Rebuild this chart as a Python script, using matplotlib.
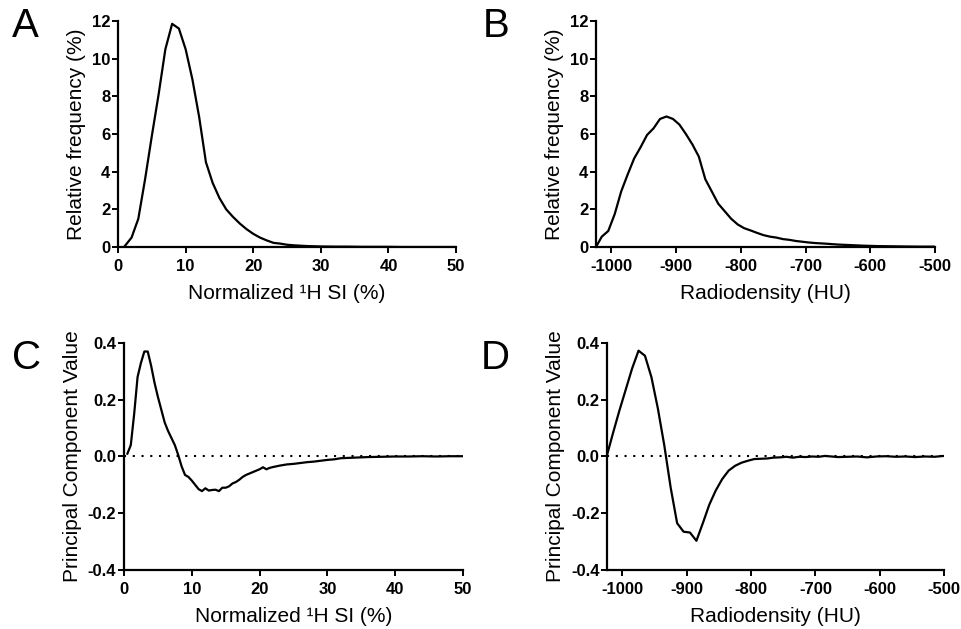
import numpy as np
import matplotlib
matplotlib.use("Agg")
import matplotlib.pyplot as plt

plt.rcParams['font.family'] = ['Liberation Sans', 'DejaVu Sans']
plt.rcParams['axes.unicode_minus'] = False

# Panel A: histogram of normalized 1H SI
si_x = [1, 2, 3, 4, 5, 6, 7, 8, 9, 10, 11, 12, 13, 14, 15, 16, 17, 18, 19, 20,
        21, 22, 23, 24, 25, 26, 27, 28, 29, 30, 32, 34, 36, 38, 40, 42, 44, 46, 48, 50]
si_freq = [0.05, 0.5, 1.5, 3.6, 5.9, 8.1, 10.5, 11.85, 11.6, 10.5, 8.9, 6.9, 4.5, 3.4, 2.6,
           2.0, 1.6, 1.25, 0.95, 0.7, 0.5, 0.35, 0.22, 0.18, 0.12, 0.09, 0.07, 0.05, 0.04, 0.03,
           0.02, 0.02, 0.01, 0.01, 0.01, 0.0, 0.0, 0.0, 0.0, 0.0]

# Panel B: histogram of radiodensity
hu_x = [-1024, -1015, -1005, -995, -985, -975, -965, -955, -945, -935, -925, -915, -905,
        -895, -885, -875, -865, -855, -845, -835, -825, -815, -805, -795, -785, -775, -765,
        -755, -745, -735, -725, -715, -705, -695, -685, -670, -650, -630, -610, -590, -570,
        -550, -525, -500]
hu_freq = [0.0, 0.55, 0.85, 1.75, 2.95, 3.85, 4.7, 5.3, 5.95, 6.3, 6.8, 6.93, 6.8,
           6.5, 6.0, 5.45, 4.8, 3.6, 2.95, 2.3, 1.9, 1.5, 1.2, 1.0, 0.88, 0.75, 0.63,
           0.55, 0.5, 0.42, 0.38, 0.32, 0.28, 0.24, 0.21, 0.18, 0.13, 0.1, 0.07, 0.05, 0.04,
           0.03, 0.02, 0.02]

# Panel C: principal component over SI
pc_si_x = [0.5, 1.0, 1.5, 2.0, 2.5, 3.0, 3.5, 4.0, 4.5, 5.0, 5.5, 6.0, 6.5, 7.0, 7.5, 8.0,
           8.5, 9.0, 9.5, 10.0, 10.5, 11.0, 11.5, 12.0, 12.5, 13.0, 13.5, 14.0, 14.5, 15.0,
           15.5, 16.0, 16.5, 17.0, 17.5, 18.0, 18.5, 19.0, 19.5, 20.0, 20.5, 21.0, 21.5, 22.0,
           23.0, 24.0, 25.0, 26.0, 27.0, 28.0, 29.0, 30.0, 31.0, 32.0, 33.0, 34.0, 35.0, 36.0,
           38.0, 40.0, 42.0, 44.0, 46.0, 48.0, 50.0]
pc_si = [0.01, 0.04, 0.15, 0.28, 0.33, 0.37, 0.37, 0.32, 0.26, 0.21, 0.165, 0.12, 0.09, 0.065,
         0.04, 0.005, -0.035, -0.065, -0.072, -0.085, -0.10, -0.115, -0.122, -0.112, -0.12,
         -0.118, -0.117, -0.122, -0.11, -0.11, -0.105, -0.095, -0.09, -0.082, -0.072, -0.065,
         -0.06, -0.055, -0.05, -0.045, -0.038, -0.045, -0.04, -0.037, -0.032, -0.028, -0.026,
         -0.023, -0.02, -0.018, -0.015, -0.012, -0.01, -0.006, -0.005, -0.004, -0.003, -0.002,
         -0.001, 0.0, 0.0, 0.001, 0.0, 0.001, 0.001]

# Panel D: principal component over radiodensity
pc_hu_x = [-1024, -1015, -1005, -995, -985, -975, -965, -955, -945, -935, -925, -915, -905,
           -895, -885, -875, -865, -855, -845, -835, -825, -815, -805, -795, -785, -775, -765,
           -755, -745, -735, -725, -715, -705, -695, -685, -675, -665, -650, -635, -620, -605,
           -590, -575, -560, -545, -530, -515, -500]
pc_hu = [0.005, 0.08, 0.16, 0.235, 0.31, 0.373, 0.355, 0.28, 0.17, 0.04, -0.11, -0.235, -0.265,
         -0.268, -0.297, -0.235, -0.17, -0.12, -0.08, -0.05, -0.033, -0.022, -0.015, -0.009,
         -0.008, -0.007, -0.004, -0.003, -0.001, -0.004, -0.001, -0.002, 0.0, -0.001, 0.002,
         0.0, -0.002, -0.001, 0.0, -0.003, 0.0, 0.001, -0.001, 0.0, -0.002, 0.0, -0.001, 0.002]

TICK_FS = 12
LABEL_FS = 15
LW = 1.6

fig = plt.figure(figsize=(9.62, 6.29), dpi=100)
axA = fig.add_axes([0.1227, 0.6073, 0.3514, 0.3593])
axB = fig.add_axes([0.6195, 0.6073, 0.3524, 0.3593])
axC = fig.add_axes([0.1289, 0.0938, 0.3524, 0.3609])
axD = fig.add_axes([0.6310, 0.0938, 0.3503, 0.3609])


def style(ax):
    for s in ["top", "right"]:
        ax.spines[s].set_visible(False)
    for s in ["left", "bottom"]:
        ax.spines[s].set_linewidth(1.6)
    ax.tick_params(direction="out", length=4.5, width=1.4, labelsize=TICK_FS)
    ax.tick_params(axis="x", pad=4)
    ax.tick_params(axis="y", pad=1)
    for lbl in ax.get_xticklabels() + ax.get_yticklabels():
        lbl.set_fontweight("bold")
    ax.xaxis.labelpad = 7


axA.plot(si_x, si_freq, color="black", lw=LW)
axA.set_xlim(0, 50)
axA.set_ylim(0, 12)
axA.set_xticks([0, 10, 20, 30, 40, 50])
axA.set_yticks([0, 2, 4, 6, 8, 10, 12])
axA.set_xlabel("Normalized \u00b9H SI (%)", fontsize=LABEL_FS)
axA.set_ylabel("Relative frequency (%)", fontsize=LABEL_FS)
style(axA)

axB.plot(hu_x, hu_freq, color="black", lw=LW)
axB.set_xlim(-1024, -500)
axB.set_ylim(0, 12)
axB.set_xticks([-1000, -900, -800, -700, -600, -500])
axB.set_yticks([0, 2, 4, 6, 8, 10, 12])
axB.set_xlabel("Radiodensity (HU)", fontsize=LABEL_FS)
axB.set_ylabel("Relative frequency (%)", fontsize=LABEL_FS)
style(axB)

axC.axhline(0, color="black", lw=1.5, ls=(0, (1, 3.2)))
axC.plot(pc_si_x, pc_si, color="black", lw=LW)
axC.set_xlim(0, 50)
axC.set_ylim(-0.4, 0.4)
axC.set_xticks([0, 10, 20, 30, 40, 50])
axC.set_yticks([-0.4, -0.2, 0.0, 0.2, 0.4])
axC.set_yticklabels(["-0.4", "-0.2", "0.0", "0.2", "0.4"])
axC.set_xlabel("Normalized \u00b9H SI (%)", fontsize=LABEL_FS)
axC.set_ylabel("Principal Component Value", fontsize=LABEL_FS)
style(axC)

axD.axhline(0, color="black", lw=1.5, ls=(0, (1, 3.2)))
axD.plot(pc_hu_x, pc_hu, color="black", lw=LW)
axD.set_xlim(-1024, -500)
axD.set_ylim(-0.4, 0.4)
axD.set_xticks([-1000, -900, -800, -700, -600, -500])
axD.set_yticks([-0.4, -0.2, 0.0, 0.2, 0.4])
axD.set_yticklabels(["-0.4", "-0.2", "0.0", "0.2", "0.4"])
axD.set_xlabel("Radiodensity (HU)", fontsize=LABEL_FS)
axD.set_ylabel("Principal Component Value", fontsize=LABEL_FS)
style(axD)

# Panel letters
fig.text(12 / 962, 1 - 37 / 629, "A", fontsize=29, va="baseline")
fig.text(483 / 962, 1 - 37 / 629, "B", fontsize=29, va="baseline")
fig.text(12 / 962, 1 - 369 / 629, "C", fontsize=29, va="baseline")
fig.text(481 / 962, 1 - 369 / 629, "D", fontsize=29, va="baseline")

fig.savefig("out.png", dpi=100)
